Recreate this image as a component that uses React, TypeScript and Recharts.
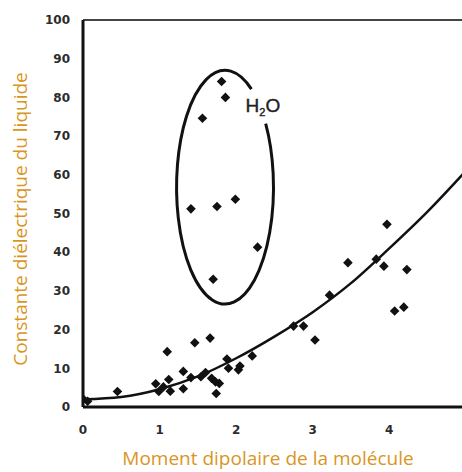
import {
  ComposedChart,
  Scatter,
  Line,
  XAxis,
  YAxis,
  ReferenceDot,
  ReferenceLine,
} from "recharts";

// liquids outside the H2O group
const otherX = [
  0.0, 0.06, 0.45, 0.95, 0.99, 1.05, 1.1, 1.12, 1.14, 1.31, 1.31, 1.41, 1.46,
  1.54, 1.6, 1.66, 1.68, 1.73, 1.78, 1.74, 1.88, 1.9, 2.03, 2.05, 2.21, 2.75,
  2.88, 3.03, 3.22, 3.46, 3.83, 3.93, 3.97, 4.07, 4.19, 4.23,
];
const otherY = [
  2.1, 1.5, 4.0, 6.0, 4.0, 5.2, 14.3, 7.1, 4.1, 9.2, 4.7, 7.6, 16.6, 7.8, 8.9,
  17.8, 7.4, 6.5, 6.1, 3.5, 12.4, 10.0, 9.6, 10.6, 13.2, 20.9, 20.9, 17.3, 28.9,
  37.3, 38.2, 36.4, 47.2, 24.8, 25.8, 35.5,
];

// liquids circled with H2O
const hbondX = [1.81, 1.86, 1.56, 1.41, 1.75, 1.99, 2.28, 1.7];
const hbondY = [84.1, 80.0, 74.6, 51.2, 51.8, 53.7, 41.3, 33.0];

// trend curve
const trendX = [0, 0.5, 1, 1.5, 2, 2.5, 3, 3.5, 4, 4.5, 5];
const trendY = [2.0, 2.6, 4.6, 7.9, 12.6, 18.2, 24.5, 32.0, 41.0, 50.5, 61.0];

const xTicks = [0, 1, 2, 3, 4];
const yTicks = [0, 10, 20, 30, 40, 50, 60, 70, 80, 90, 100];

const W = 462;
const H = 472;
const TOP = 20;
const Y_AXIS_W = 83;
const X_AXIS_H = 65;
const X_MAX = 4.95;
const Y_MAX = 100;
const PX_X = (W - Y_AXIS_W) / X_MAX;
const PX_Y = (H - TOP - X_AXIS_H) / Y_MAX;

// ellipse around the H2O group, in data units
const ELLIPSE = { x: 1.855, y: 56.8, rx: 0.633, ry: 30.2, gapFrom: 33, gapTo: 57 };

const ORANGE = "#d8961f";

const others = otherX.map((x, i) => ({ x, y: otherY[i] }));
const hbond = hbondX.map((x, i) => ({ x, y: hbondY[i] }));
const trend = trendX.map((x, i) => ({ x, y: trendY[i] }));

function Diamond(props: any) {
  const { cx, cy } = props;
  const r = 4.8;
  return (
    <polygon
      points={`${cx},${cy - r} ${cx + r},${cy} ${cx},${cy + r} ${cx - r},${cy}`}
      fill="#111"
    />
  );
}

function EllipseShape(props: any) {
  const { cx, cy } = props;
  const rx = ELLIPSE.rx * PX_X;
  const ry = ELLIPSE.ry * PX_Y;
  const pt = (deg: number) => {
    const t = (deg * Math.PI) / 180;
    return `${cx + rx * Math.cos(t)},${cy - ry * Math.sin(t)}`;
  };
  return (
    <path
      d={`M${pt(ELLIPSE.gapTo)} A${rx},${ry} 0 1 0 ${pt(ELLIPSE.gapFrom)}`}
      fill="none"
      stroke="#111"
      strokeWidth={3}
    />
  );
}

function H2OLabel(props: any) {
  const { cx, cy } = props;
  return (
    <text
      x={cx}
      y={cy}
      textAnchor="middle"
      fill="#222"
      fontSize={19}
      fontFamily="Liberation Sans, Arial, sans-serif"
      stroke="#222"
      strokeWidth={0.4}
    >
      H
      <tspan fontSize={11} dy={4}>
        2
      </tspan>
      <tspan dy={-4}>O</tspan>
    </text>
  );
}

const tickStyle = {
  fill: "#2b2b2b",
  fontSize: 12,
  fontWeight: 700,
  fontFamily: "DejaVu Sans",
};

export default function App() {
  return (
    <div style={{ position: "absolute", left: 0, top: 0, background: "#fff" }}>
      <ComposedChart
        width={W}
        height={H}
        margin={{ top: TOP, right: 0, bottom: 0, left: 0 }}
      >
        <XAxis
          type="number"
          dataKey="x"
          domain={[0, X_MAX]}
          allowDataOverflow
          ticks={xTicks}
          height={X_AXIS_H}
          axisLine={{ stroke: "#111", strokeWidth: 3 }}
          tickLine={false}
          tick={tickStyle}
          tickMargin={12}
          label={{
            content: () => (
              <text
                x={268}
                y={465}
                textAnchor="middle"
                fill={ORANGE}
                fontSize={19}
                fontFamily="Open Sans"
              >
                Moment dipolaire de la molécule
              </text>
            ),
          }}
        />
        <YAxis
          type="number"
          dataKey="y"
          domain={[0, Y_MAX]}
          ticks={yTicks}
          width={Y_AXIS_W}
          axisLine={{ stroke: "#111", strokeWidth: 3 }}
          tickLine={false}
          tick={tickStyle}
          tickMargin={7}
          label={{
            content: () => (
              <text
                x={27}
                y={219}
                transform="rotate(-90 27 219)"
                textAnchor="middle"
                fill={ORANGE}
                fontSize={19}
                fontFamily="Open Sans"
              >
                Constante diélectrique du liquide
              </text>
            ),
          }}
        />
        <ReferenceLine y={Y_MAX} stroke="#444" strokeWidth={2} />
        <Line
          data={trend}
          dataKey="y"
          type="monotone"
          stroke="#111"
          strokeWidth={2.5}
          dot={false}
          isAnimationActive={false}
        />
        <Scatter data={others} shape={Diamond} isAnimationActive={false} />
        <Scatter data={hbond} shape={Diamond} isAnimationActive={false} />
        <ReferenceDot x={ELLIPSE.x} y={ELLIPSE.y} shape={EllipseShape} />
        <ReferenceDot x={2.35} y={76.2} shape={H2OLabel} />
      </ComposedChart>
    </div>
  );
}
